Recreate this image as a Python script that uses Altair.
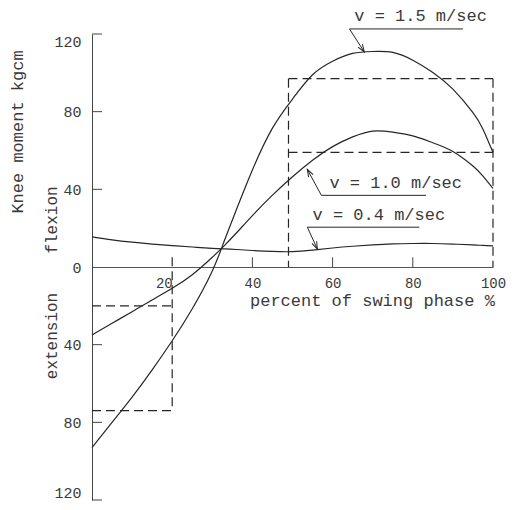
import math
import altair as alt
import pandas as pd

# ---- data ----
pct = [0, 5, 10, 15, 20, 25, 30, 33, 36, 40, 45, 50, 55, 60, 65, 70, 75, 80, 85, 90, 95, 97.5, 100]
v15 = [-93, -80, -67, -53, -38, -21.5, -2, 13.5, 29.5, 50, 71.5, 86.5, 99, 106, 110, 111, 110.5, 106.5, 100.2, 91.6, 79.5, 71, 59]
v10 = [-35, -29, -23, -17, -11, -4, 5, 11, 17.5, 26.5, 37, 46.5, 55, 62, 67, 70, 69.5, 67.5, 64, 59.5, 52, 46.8, 40.5]
v04 = [15.5, 14, 12.8, 11.8, 11, 10.3, 9.6, 9.3, 9, 8.5, 8, 7.9, 8.7, 9.8, 10.7, 11.4, 11.9, 12.1, 12.1, 11.8, 11.4, 11.1, 10.9]

# dashed boxes (segments)
box_x = [20, 0, 0, 49, 49, 100, 49]
box_y = [5, -74, -20, 97, 97, 97, 59]
box_x2 = [20, 20, 20, 100, 49, 100, 100]
box_y2 = [-74, -74, -20, 97, 0, 0, 59]

y_tick_vals = [120, 80, 40, -40, -80, -120]
y_label_vals = [-120, -80, -40, 0, 40, 80, 120]
x_tick_vals = [40, 60, 80]
x_label_vals = [20, 40, 60, 80, 100]

labels = ["v = 1.5 m/sec", "v = 1.0 m/sec", "v = 0.4 m/sec"]
label_x = [65.4, 59.2, 55.0]
label_y = [129.2, 43.4, 26.7]

# leader lines: end of underline, start of underline, arrow tip
lead_x = [[92.5, 64.2, 67.9], [83.3, 57.2, 53.7], [81.6, 53.7, 56.2]]
lead_y = [[122.6, 122.6, 110.8], [36.9, 36.9, 50.3], [20.5, 20.5, 9.2]]

W, H = 401, 466
INK = "#262626"
TXT = "#3a3a3a"
FONT = "Liberation Mono"

curves = pd.DataFrame(
    [{"pct": p, "val": v, "series": "1.5"} for p, v in zip(pct, v15)]
    + [{"pct": p, "val": v, "series": "1.0"} for p, v in zip(pct, v10)]
    + [{"pct": p, "val": v, "series": "0.4"} for p, v in zip(pct, v04)]
)
boxes = pd.DataFrame({"x": box_x, "y": box_y, "x2": box_x2, "y2": box_y2})
yt = pd.DataFrame({"x": [0] * len(y_tick_vals), "x2": [2.5] * len(y_tick_vals), "y": y_tick_vals})
xt = pd.DataFrame({"x": x_tick_vals, "y": [0] * len(x_tick_vals), "y2": [5] * len(x_tick_vals)})
ann = pd.DataFrame({"text": labels, "x": label_x, "y": label_y})

lead_rows, tip_rows = [], []
for i, (lx, ly) in enumerate(zip(lead_x, lead_y)):
    for j, (a, b) in enumerate(zip(lx, ly)):
        lead_rows.append({"g": i, "o": j, "x": a, "y": b})
    dx = (lx[2] - lx[1]) * W / 100
    dy = -(ly[2] - ly[1]) * H / 240
    ang = math.degrees(math.atan2(dx, -dy)) % 360
    tip_rows.append({"x": lx[2], "y": ly[2], "ang": ang})
leads = pd.DataFrame(lead_rows)
tips = pd.DataFrame(tip_rows)

xs = alt.Scale(domain=[0, 100], nice=False, zero=False)
ys = alt.Scale(domain=[-120, 120], nice=False, zero=False)

x_axis = alt.Axis(
    values=x_label_vals, offset=-(H / 2), ticks=False, grid=False, title=None,
    domainColor="#555", domainWidth=1, labelFont=FONT, labelFontSize=14,
    labelColor=TXT, labelPadding=9,
    labelAlign={"condition": {"test": "datum.value == 20", "value": "right"}, "value": "center"},
)
y_axis = alt.Axis(
    values=y_label_vals, labelExpr="abs(datum.value)", ticks=False, grid=False,
    title=None, domainColor="#444", domainWidth=1, labelFont=FONT,
    labelFontSize=15, labelColor=TXT, labelPadding=11, labelFlush=True,
)


def X(f):
    return alt.X(f, type="quantitative", scale=xs, axis=x_axis)


def Y(f):
    return alt.Y(f, type="quantitative", scale=ys, axis=y_axis)


lines = alt.Chart(curves).mark_line(color=INK, strokeWidth=1.2, interpolate="natural").encode(
    x=X("pct"), y=Y("val"), detail="series:N",
)

dashed = alt.Chart(boxes).mark_rule(color=INK, strokeWidth=1.2, strokeDash=[9, 5]).encode(
    x=X("x"), y=Y("y"), x2="x2:Q", y2="y2:Q",
)

yticks = alt.Chart(yt).mark_rule(color="#444", strokeWidth=1).encode(
    x=X("x"), x2="x2:Q", y=Y("y")
)
xticks = alt.Chart(xt).mark_rule(color="#444", strokeWidth=1).encode(
    x=X("x"), y=Y("y"), y2="y2:Q"
)

ann_text = alt.Chart(ann).mark_text(
    align="left", baseline="middle", font=FONT, fontSize=17, color=TXT
).encode(x=X("x"), y=Y("y"), text="text:N")

leader = alt.Chart(leads).mark_line(color=INK, strokeWidth=1).encode(
    x=X("x"), y=Y("y"), detail="g:N", order="o:Q",
)
arrow = alt.Chart(tips).mark_point(
    shape="M-0.35,1L0,0L0.35,1", size=220, filled=False, color=INK, strokeWidth=1, opacity=1
).encode(
    x=X("x"), y=Y("y"), angle=alt.Angle("ang:Q", scale=None),
)


def vtext(t, px, py, size):
    return alt.Chart(pd.DataFrame({"t": [t]})).mark_text(
        angle=270, align="center", baseline="middle", font=FONT, fontSize=size, color=TXT
    ).encode(x=alt.value(px), y=alt.value(py), text="t:N")


knee = vtext("Knee moment kgcm", -74, 98, 17)
flex = vtext("flexion", -40, 186, 16)
ext = vtext("extension", -40, 302, 16)
xtitle = alt.Chart(pd.DataFrame({"t": ["percent of swing phase %"]})).mark_text(
    align="left", baseline="alphabetic", font=FONT, fontSize=17, color=TXT
).encode(x=alt.value(158), y=alt.value(272), text="t:N")

chart = alt.layer(
    lines, dashed, yticks, xticks, leader, arrow, ann_text, knee, flex, ext, xtitle
).properties(
    width=W, height=H,
    padding={"left": 84, "top": 26, "right": 18, "bottom": 2},
    autosize=alt.AutoSizeParams(type="none"),
    background="white",
).configure_view(stroke=None)

chart.save("out.html", embed_options={"renderer": "svg", "actions": False})
